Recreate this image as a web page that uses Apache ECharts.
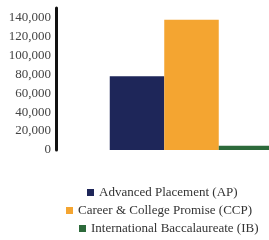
<!DOCTYPE html>
<html style="height: 100%">
    <head>
        <meta charset="utf-8">
    </head>
    <body style="height: 100%; margin: 0; background: #fff; overflow: hidden;">
        <!-- wider than the window on purpose: the last bar runs off the right edge -->
        <div id="container" style="height: 240px; width: 327px;"></div>
        <script src="https://cdn.jsdelivr.net/npm/echarts@6/dist/echarts.min.js"></script>
        <script>
        var programs = ['Advanced Placement (AP)', 'Career & College Promise (CCP)', 'International Baccalaureate (IB)'];
        var enrollment = [78000, 137500, 4500];
        var colors = ['#1e2659', '#f4a531', '#2d6a3b'];
        var legendLeft = [87, 66, 79];
        var legendTop = [186, 204, 222];

        var chart = echarts.init(document.getElementById('container'));
        var font = 'Liberation Serif';

        var series = programs.map(function (name, i) {
            return {
                name: name,
                type: 'bar',
                data: [enrollment[i]],
                barWidth: 54.5,
                barGap: '0%',
                itemStyle: { color: colors[i] }
            };
        });

        var legends = programs.map(function (name, i) {
            return {
                data: [name],
                left: legendLeft[i],
                top: legendTop[i],
                icon: 'rect',
                itemWidth: 7,
                itemHeight: 7,
                padding: 0,
                textStyle: { fontFamily: font, fontSize: 13, color: '#333' }
            };
        });

        var option = {
            animation: false,
            grid: { left: 56, right: 0, top: 8, bottom: 90 },
            legend: legends,
            xAxis: {
                type: 'category',
                data: [''],
                axisLine: { show: false },
                axisTick: { show: false },
                axisLabel: { show: false }
            },
            yAxis: {
                type: 'value',
                min: 0,
                max: 150000,
                interval: 20000,
                axisLine: { show: true, lineStyle: { color: '#111', width: 3 } },
                axisTick: { show: false },
                splitLine: { show: false },
                axisLabel: {
                    showMaxLabel: false,
                    margin: 5,
                    fontFamily: font,
                    fontSize: 13,
                    color: '#444',
                    formatter: function (v) { return v.toLocaleString('en-US'); }
                }
            },
            series: series
        };

        chart.setOption(option);
        </script>
    </body>
</html>
